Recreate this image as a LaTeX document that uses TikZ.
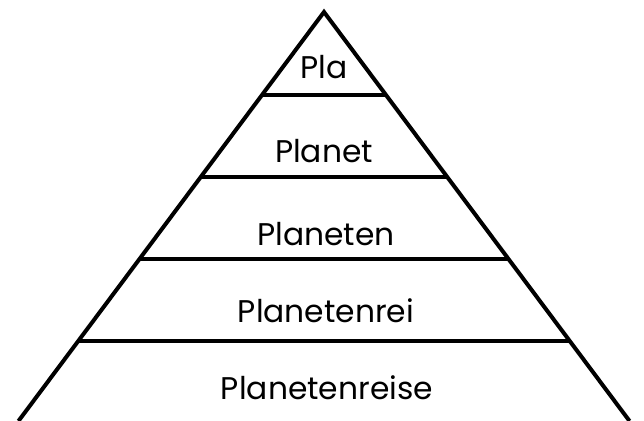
\documentclass[tikz,border=0pt]{standalone}
\usepackage{fontspec}
\setmainfont{Poppins}
\usetikzlibrary{calc}

\begin{document}
\begin{tikzpicture}[x=0.75pt, y=-0.75pt,
    side/.style={draw=black, line width=3pt},
    lvl/.style={font=\fontsize{23.5}{28}\selectfont, inner sep=0pt}]
  \useasboundingbox (0,0) rectangle (644,421);
  \coordinate (apex) at (324,12);
  \coordinate (bl) at (18.5,421);
  \coordinate (br) at (629.5,421);
  \draw[side, line join=miter] (bl) -- (apex) -- (br);
  % band borders
  \foreach \i/\y in {1/95,2/177,3/259,4/341} {
    \coordinate (l\i) at ($(apex)!{(\y-12)/409}!(bl)$);
    \coordinate (r\i) at ($(apex)!{(\y-12)/409}!(br)$);
    \draw[side] (l\i) -- (r\i);
  }
  \node[lvl] (t1) at (324,67) {Pla};
  \node[lvl] (t2) at (324,151) {Planet};
  \node[lvl] (t3) at (326,234) {Planeten};
  \node[lvl] (t4) at (326,311) {Planetenrei};
  \node[lvl] (t5) at (327,388) {Planetenreise};
\end{tikzpicture}
\end{document}
